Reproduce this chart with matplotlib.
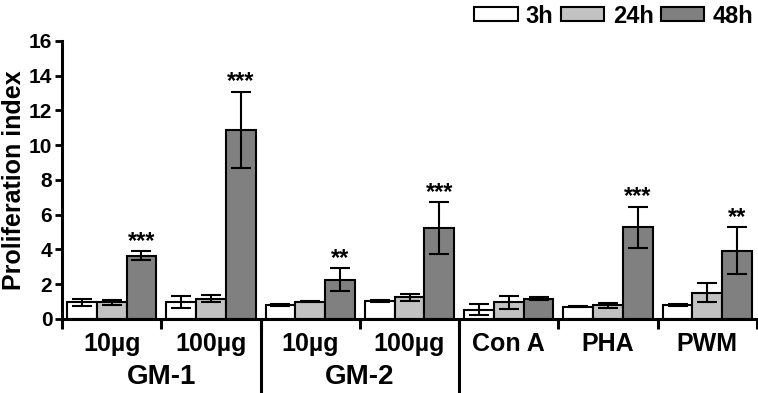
import matplotlib
matplotlib.use("Agg")
import matplotlib.pyplot as plt
import numpy as np
from matplotlib.patches import Patch

plt.rcParams['font.family'] = ['Liberation Sans', 'DejaVu Sans']
plt.rcParams['font.weight'] = 'bold'

doses = ["10µg", "100µg", "10µg", "100µg", "Con A", "PHA", "PWM"]
times = ["3h", "24h", "48h"]
h3 = [0.96, 0.96, 0.82, 1.05, 0.54, 0.71, 0.80]
h24 = [0.96, 1.17, 0.98, 1.24, 0.96, 0.78, 1.51]
h48 = [3.64, 10.87, 2.26, 5.22, 1.17, 5.28, 3.94]
err3 = [0.20, 0.35, 0.05, 0.05, 0.32, 0.02, 0.05]
err24 = [0.15, 0.20, 0.03, 0.22, 0.38, 0.13, 0.55]
err48 = [0.25, 2.20, 0.67, 1.50, 0.10, 1.19, 1.34]
stars48 = ["***", "***", "**", "***", "", "***", "**"]
colors = ["white", "#c2c2c2", "#808080"]

fig = plt.figure(figsize=(7.58, 3.93), dpi=100)
ax = fig.add_axes([0.0818, 0.1883, 0.9169, 0.7074])

x = np.arange(len(doses)) + 0.5
w = 0.3
for j, (vals, errs) in enumerate([(h3, err3), (h24, err24), (h48, err48)]):
    ax.bar(x + (j - 1) * w, vals, w, color=colors[j], edgecolor="black",
           linewidth=1.5, yerr=errs, capsize=7.5,
           error_kw=dict(elinewidth=1.5, capthick=1.5, ecolor="black"))

for i, s in enumerate(stars48):
    if s:
        ax.text(x[i] + w, h48[i] + err48[i] + 0.2, s, ha="center", va="baseline",
                fontsize=17, fontweight="bold")

ax.set_xlim(0, 7)
ax.set_ylim(0, 16)
ax.set_yticks(np.arange(0, 17, 2))
ax.set_xticks(np.arange(0, 8))
ax.set_xticklabels([])
ax.tick_params(axis="y", labelsize=15, width=2, length=5, pad=2)
ax.tick_params(axis="x", width=2.2, length=7)
for lab in ax.get_yticklabels():
    lab.set_fontweight("bold")
ax.set_ylabel("Proliferation index", fontsize=18, fontweight="bold", labelpad=2)
for sp in ["top", "right"]:
    ax.spines[sp].set_visible(False)
for sp in ["left", "bottom"]:
    ax.spines[sp].set_linewidth(2.2)

trans = ax.get_xaxis_transform()
for i, d in enumerate(doses):
    ax.text(x[i], -0.09, d, transform=trans, ha="center", va="center",
            fontsize=18, fontweight="bold")
for gx, g in [(1.0, "GM-1"), (3.0, "GM-2")]:
    ax.text(gx, -0.21, g, transform=trans, ha="center", va="center",
            fontsize=20, fontweight="bold")
for dx in [2, 4]:
    ax.plot([dx, dx], [0, -0.3], transform=trans, color="black", lw=2.2,
            clip_on=False, solid_capstyle="butt")

handles = [Patch(facecolor=c, edgecolor="black", linewidth=1.5) for c in colors]
fig.legend(handles, times, loc="upper right", bbox_to_anchor=(1.0, 1.0),
           ncol=3, frameon=False, handlelength=1.85, borderaxespad=0.1,
           borderpad=0.1, handleheight=0.55, handletextpad=0.35,
           columnspacing=0.3, prop=dict(weight="bold", size=17))

fig.savefig("out.png", dpi=100)
